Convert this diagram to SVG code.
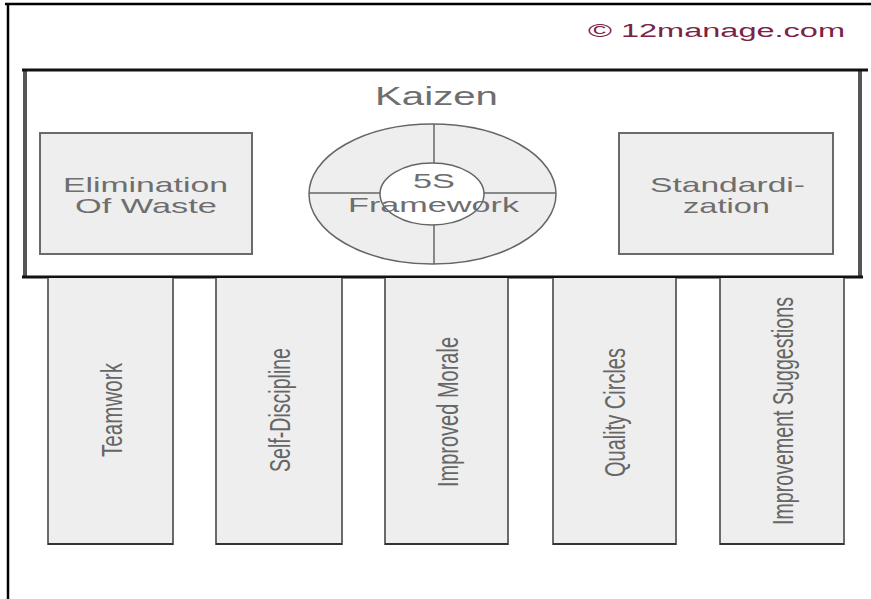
<svg xmlns="http://www.w3.org/2000/svg" width="871" height="599" viewBox="0 0 871 599">
  <style>
    .lbl { font-family: "Liberation Sans", Arial, sans-serif; fill: #6e6e6e; text-anchor: middle; }
    .box { fill: #eeeeee; stroke: #6a6a6a; stroke-width: 2; }
    .col { fill: #eeeeee; stroke: #6a6a6a; stroke-width: 2; }
    .colbase { stroke: #333333; stroke-width: 2; }
    .vt { font-family: "Liberation Sans", Arial, sans-serif; fill: #666666; text-anchor: middle; font-size: 20px; }
    .ring { stroke: #666666; stroke-width: 1.5; }
  </style>
  <rect x="0" y="0" width="871" height="599" fill="#ffffff"/>

  <g id="frame">
    <line x1="5" y1="4" x2="871" y2="4" stroke="#000000" stroke-width="2.5"/>
    <line x1="8" y1="3" x2="8" y2="599" stroke="#000000" stroke-width="2.5"/>
  </g>

  <g id="copyright">
    <text x="716.5" y="37" font-family="Liberation Sans, Arial, sans-serif" font-size="18" fill="#7b2346" text-anchor="middle" textLength="257" lengthAdjust="spacingAndGlyphs">© 12manage.com</text>
  </g>

  <g id="kaizen">
    <rect x="25" y="70" width="836" height="207" fill="#ffffff" stroke="none"/>
    <line x1="25" y1="70" x2="25" y2="277" stroke="#555555" stroke-width="4"/>
    <line x1="860" y1="70" x2="860" y2="277" stroke="#555555" stroke-width="4"/>
    <line x1="22" y1="70" x2="868" y2="70" stroke="#111111" stroke-width="3"/>
    <line x1="22" y1="277" x2="863" y2="277" stroke="#111111" stroke-width="3"/>
    <text class="lbl" x="436.5" y="105" font-size="25" textLength="123" lengthAdjust="spacingAndGlyphs">Kaizen</text>
  </g>

  <g id="elimination">
    <rect class="box" x="40" y="133" width="212" height="121"/>
    <text class="lbl" x="145.5" y="192" font-size="21" textLength="165" lengthAdjust="spacingAndGlyphs">Elimination</text>
    <text class="lbl" x="146" y="213" font-size="21" textLength="142" lengthAdjust="spacingAndGlyphs">Of Waste</text>
  </g>

  <g id="framework">
    <ellipse cx="432.5" cy="194" rx="123.5" ry="70" fill="#eeeeee" class="ring"/>
    <line class="ring" x1="434" y1="124" x2="434" y2="264"/>
    <line class="ring" x1="309" y1="193" x2="556" y2="193"/>
    <ellipse cx="432" cy="194" rx="52" ry="31" fill="#ffffff" class="ring"/>
    <text class="lbl" x="434" y="188" font-size="21" textLength="42" lengthAdjust="spacingAndGlyphs">5S</text>
    <text class="lbl" x="433.5" y="212" font-size="21" textLength="171" lengthAdjust="spacingAndGlyphs">Framework</text>
  </g>

  <g id="standardization">
    <rect class="box" x="619" y="133" width="214" height="121"/>
    <text class="lbl" x="727.5" y="192" font-size="21" textLength="155" lengthAdjust="spacingAndGlyphs">Standardi-</text>
    <text class="lbl" x="726.5" y="213" font-size="21" textLength="87" lengthAdjust="spacingAndGlyphs">zation</text>
  </g>

  <g id="teamwork">
    <path class="col" d="M48,278 V544 H173 V278"/>
    <line class="colbase" x1="48" y1="544" x2="173" y2="544"/>
    <text class="vt" transform="translate(122,410) scale(1.5,1) rotate(-90)" textLength="94" lengthAdjust="spacingAndGlyphs">Teamwork</text>
  </g>

  <g id="self-discipline">
    <path class="col" d="M216,278 V544 H342 V278"/>
    <line class="colbase" x1="216" y1="544" x2="342" y2="544"/>
    <text class="vt" transform="translate(290,410) scale(1.5,1) rotate(-90)" textLength="124" lengthAdjust="spacingAndGlyphs">Self-Discipline</text>
  </g>

  <g id="improved-morale">
    <path class="col" d="M385,278 V544 H508 V278"/>
    <line class="colbase" x1="385" y1="544" x2="508" y2="544"/>
    <text class="vt" transform="translate(458,412) scale(1.5,1) rotate(-90)" textLength="150" lengthAdjust="spacingAndGlyphs">Improved Morale</text>
  </g>

  <g id="quality-circles">
    <path class="col" d="M553,278 V544 H676 V278"/>
    <line class="colbase" x1="553" y1="544" x2="676" y2="544"/>
    <text class="vt" transform="translate(625,412.5) scale(1.5,1) rotate(-90)" textLength="129" lengthAdjust="spacingAndGlyphs">Quality Circles</text>
  </g>

  <g id="improvement-suggestions">
    <path class="col" d="M720,278 V544 H844 V278"/>
    <line class="colbase" x1="720" y1="544" x2="844" y2="544"/>
    <text class="vt" transform="translate(793,411) scale(1.5,1) rotate(-90)" textLength="228" lengthAdjust="spacingAndGlyphs">Improvement Suggestions</text>
  </g>

  <g id="connectors"/>
</svg>
